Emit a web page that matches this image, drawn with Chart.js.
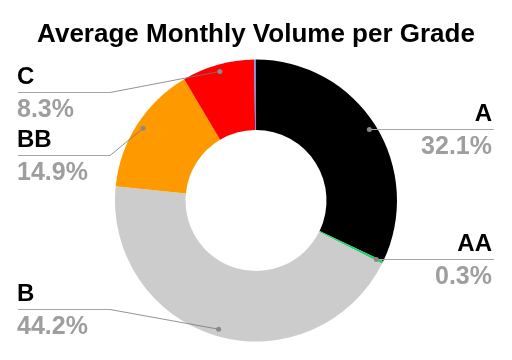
<!DOCTYPE html>
<html><head><meta charset="utf-8">
<script src="https://cdn.jsdelivr.net/npm/chart.js@4"></script>
<style>html,body{margin:0;padding:0;background:#fff}#wrap{width:512px;height:360px}</style>
</head><body><div id="wrap"><canvas id="c" width="512" height="360"></canvas></div>
<script>
const chartTitle = 'Average Monthly Volume per Grade';
const grades = ['A', 'AA', 'B', 'BB', 'C', 'Other'];
const shares = [32.1, 0.3, 44.2, 14.9, 8.3, 0.2];
const sliceColors = ['#000000', '#1fd26b', '#cccccc', '#ff9900', '#ff0000', '#6f8fe3'];
const labelled = [true, true, true, true, true, false];

const FONT = "'Liberation Sans', Arial, sans-serif";

const leaderPlugin = {
  id: 'leaders',
  afterDraw(chart) {
    const ctx = chart.ctx;
    const meta = chart.getDatasetMeta(0);
    const items = [];
    meta.data.forEach((arc, i) => {
      if (!labelled[i]) return;
      const p = arc.getProps(['x', 'y', 'startAngle', 'endAngle', 'outerRadius'], true);
      const mid = (p.startAngle + p.endAngle) / 2;
      const r = p.outerRadius - 7;
      items.push({ i, px: p.x + Math.cos(mid) * r, py: p.y + Math.sin(mid) * r, right: Math.cos(mid) >= 0 });
    });
    const minY = 92, maxY = 309, gap = 63;
    [false, true].forEach(side => {
      const list = items.filter(it => it.right === side).sort((a, b) => a.py - b.py);
      list.forEach(it => it.ly = Math.min(maxY, Math.max(minY, it.py)));
      for (let k = 1; k < list.length; k++) if (list[k].ly < list[k - 1].ly + gap) list[k].ly = list[k - 1].ly + gap;
      for (let k = list.length - 2; k >= 0; k--) if (list[k].ly > list[k + 1].ly - gap) list[k].ly = list[k + 1].ly - gap;
    });
    ctx.save();
    items.forEach(it => {
      const ly = Math.round(it.ly) + 0.5;
      const outerX = it.right ? 494 : 18;
      const elbowX = it.right ? 402 : 110;
      ctx.lineWidth = 1;
      ctx.strokeStyle = '#a6a6a6';
      ctx.beginPath();
      ctx.moveTo(outerX, ly);
      const straight = Math.abs(it.py - it.ly) < 1;
      if (straight) {
        ctx.lineTo(it.px, ly);
        ctx.stroke();
      } else {
        ctx.lineTo(elbowX, ly);
        ctx.stroke();
        ctx.strokeStyle = '#777777';
        ctx.lineWidth = 0.8;
        ctx.beginPath();
        ctx.moveTo(elbowX, ly);
        ctx.lineTo(it.px, it.py);
        ctx.stroke();
      }
      ctx.fillStyle = '#8a8a8a';
      ctx.beginPath();
      ctx.arc(it.px, straight ? ly : it.py, 2.5, 0, Math.PI * 2);
      ctx.fill();
      ctx.textAlign = it.right ? 'right' : 'left';
      ctx.textBaseline = 'alphabetic';
      const tx = it.right ? 492 : 17;
      ctx.font = 'bold 24px ' + FONT;
      ctx.fillStyle = '#000000';
      ctx.fillText(grades[it.i], tx, it.ly - 8);
      ctx.fillStyle = '#9e9e9e';
      ctx.font = 'bold 25px ' + FONT;
      ctx.fillText(shares[it.i].toFixed(1) + '%', tx, it.ly + 25);
    });
    ctx.fillStyle = '#000000';
    ctx.font = 'bold 26px ' + FONT;
    ctx.textAlign = 'center';
    ctx.fillText(chartTitle, 256, 42);
    ctx.restore();
  }
};

new Chart(document.getElementById('c'), {
  type: 'doughnut',
  data: {
    labels: grades,
    datasets: [{ data: shares, backgroundColor: sliceColors, borderWidth: 0 }]
  },
  options: {
    responsive: false,
    animation: false,
    devicePixelRatio: 1,
    cutout: '50%',
    events: [],
    layout: { padding: { top: 59.5, bottom: 18.5, left: 115, right: 115 } },
    plugins: { legend: { display: false }, title: { display: false }, tooltip: { enabled: false } }
  },
  plugins: [leaderPlugin]
});
</script>
</body></html>
